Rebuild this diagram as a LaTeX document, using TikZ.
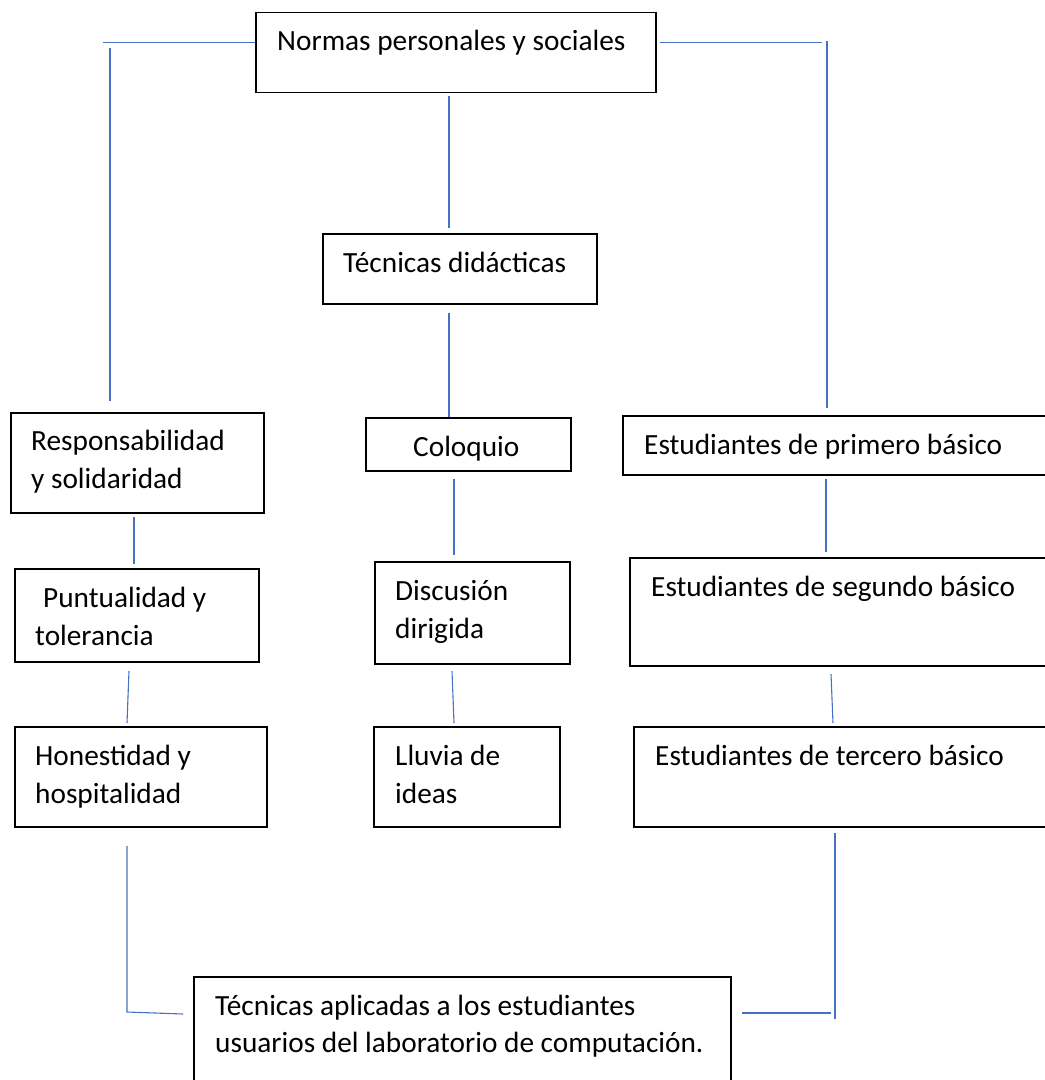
\documentclass[tikz,border=0pt]{standalone}
\usepackage{fontspec}
\setmainfont{Carlito}
\usetikzlibrary{fit}
\definecolor{lineblue}{HTML}{4472C4}
\tikzset{
  box/.style={draw=black, line width=1.3pt, inner sep=0pt},
  conn/.style={draw=lineblue, line width=1.1pt},
  txt/.style={anchor=base west, inner sep=0pt, font=\fontsize{29.3}{38}\selectfont}
}
\begin{document}
\begin{tikzpicture}[x=1pt,y=-1pt]
\useasboundingbox (0,0) rectangle (1045,1080);
\clip (0,0) rectangle (1045,1080);
% boxes
\node[box, fit={(256,12.5) (656,92.3)}] (nps) {};
\node[box, fit={(323,234) (597,304)}] (td) {};
\node[box, fit={(11,413) (264,513)}] (rs) {};
\node[box, fit={(366,418) (571,471)}] (col) {};
\node[box, fit={(623,416) (1060,475)}] (ep) {};
\node[box, fit={(15,569) (259,662)}] (pt) {};
\node[box, fit={(375,562) (570,664)}] (dd) {};
\node[box, fit={(630,558) (1060,666)}] (es) {};
\node[box, fit={(15,727) (267,827)}] (hh) {};
\node[box, fit={(374,727) (560,827)}] (ll) {};
\node[box, fit={(634,727) (1060,827)}] (et) {};
\node[box, fit={(194,977) (731,1100)}] (ta) {};
% texts
\node[txt] (nps-t) at (277,50.3) {Normas personales y sociales};
\node[txt] (td-t) at (343,272.5) {Técnicas didácticas};
\node[txt] (rs-t1) at (31,450.5) {Responsabilidad};
\node[txt] (rs-t2) at (31,488.5) {y solidaridad};
\node[txt] (col-t) at (413,456) {Coloquio};
\node[txt] (ep-t) at (644,454.3) {Estudiantes de primero básico};
\node[txt] (pt-t1) at (43,607.3) {Puntualidad y};
\node[txt] (pt-t2) at (35,645.3) {tolerancia};
\node[txt] (dd-t1) at (395,600) {Discusión};
\node[txt] (dd-t2) at (395,638) {dirigida};
\node[txt] (es-t) at (651,596.7) {Estudiantes de segundo básico};
\node[txt] (hh-t1) at (35,765) {Honestidad y};
\node[txt] (hh-t2) at (35,803.3) {hospitalidad};
\node[txt] (ll-t1) at (395,765) {Lluvia de};
\node[txt] (ll-t2) at (395,803.3) {ideas};
\node[txt] (et-t) at (655,765.7) {Estudiantes de tercero básico};
\node[txt] (ta-t1) at (215,1015) {Técnicas aplicadas a los estudiantes};
\node[txt] (ta-t2) at (215,1052.5) {usuarios del laboratorio de computación.};
% connector end points
\coordinate (a1) at (255,42.7); \coordinate (a2) at (103,42.7);
\coordinate (a3) at (110,48); \coordinate (a4) at (110,401);
\coordinate (b1) at (660,42.7); \coordinate (b2) at (822,42.7);
\coordinate (b3) at (827,41); \coordinate (b4) at (827,408);
\coordinate (c1) at (449,96); \coordinate (c2) at (449,228);
\coordinate (c3) at (449,313); \coordinate (c4) at (449,417);
\coordinate (d1) at (134,517); \coordinate (d2) at (134,564);
\coordinate (d3) at (129,671); \coordinate (d4) at (127,723);
\coordinate (e1) at (454,479); \coordinate (e2) at (454,555);
\coordinate (e3) at (452,671); \coordinate (e4) at (454,723);
\coordinate (f1) at (826,479); \coordinate (f2) at (826,552);
\coordinate (f3) at (831,674); \coordinate (f4) at (833,723);
\coordinate (g1) at (127,846); \coordinate (g2) at (127,1012); \coordinate (g3) at (183,1014);
\coordinate (h1) at (742,1013); \coordinate (h2) at (831,1013);
\coordinate (h3) at (835,833); \coordinate (h4) at (835,1019);
% connectors
\draw[conn] (a1) -- (a2);
\draw[conn] (a3) -- (a4);
\draw[conn] (b1) -- (b2);
\draw[conn] (b3) -- (b4);
\draw[conn] (c1) -- (c2);
\draw[conn] (c3) -- (c4);
\draw[conn] (d1) -- (d2);
\draw[conn] (d3) -- (d4);
\draw[conn] (e1) -- (e2);
\draw[conn] (e3) -- (e4);
\draw[conn] (f1) -- (f2);
\draw[conn] (f3) -- (f4);
\draw[conn] (g1) -- (g2) -- (g3);
\draw[conn] (h1) -- (h2);
\draw[conn] (h3) -- (h4);
\end{tikzpicture}
\end{document}
